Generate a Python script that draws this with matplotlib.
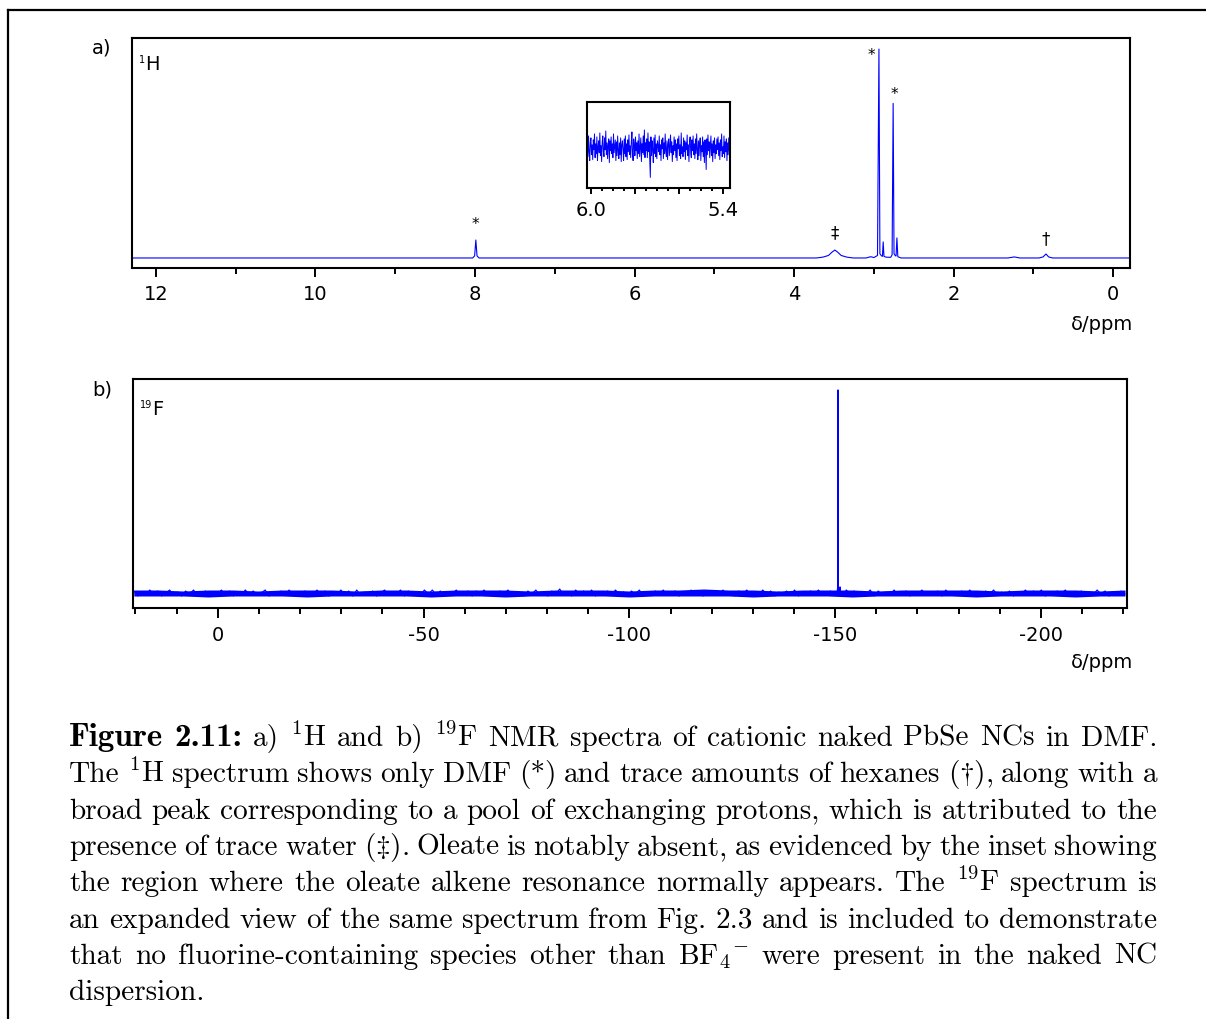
import numpy as np
import matplotlib
matplotlib.use("Agg")
import matplotlib.pyplot as plt
from matplotlib.lines import Line2D
from matplotlib.ticker import MultipleLocator, FixedLocator, FixedFormatter

plt.rcParams["font.family"] = ["DejaVu Sans"]
plt.rcParams["mathtext.fontset"] = "cm"
plt.rcParams["axes.unicode_minus"] = False

W, H = 1206, 1019
BLUE = "#0000ff"

# ---- 1H spectrum: vertices (ppm, intensity, tallest DMF line = 100)
h_ppm = [12.30, 8.03, 8.005, 7.99, 7.975, 7.95,
         3.72, 3.64, 3.57, 3.525, 3.49, 3.455, 3.41, 3.34, 3.26,
         3.10, 3.04, 3.00, 2.955, 2.937, 2.925, 2.905, 2.893, 2.884, 2.874, 2.85,
         2.79, 2.772, 2.759, 2.748, 2.73, 2.722, 2.712, 2.70, 2.66,
         1.32, 1.24, 1.17, 0.93, 0.88, 0.843, 0.81, 0.76, -0.21]
h_int = [0, 0, 1.0, 8.6, 1.0, 0,
         0, 0.4, 1.2, 2.8, 3.8, 2.8, 1.2, 0.4, 0,
         0, 0.6, 0.2, 1.2, 100, 2.0, 1.0, 0.8, 7.7, 0.8, 0.4,
         0.3, 1.5, 74, 2.0, 1.0, 1.0, 9.6, 0.6, 0,
         0, 0.5, 0, 0, 0.5, 1.9, 0.5, 0, 0]

# peak markers: symbol, ppm, intensity of the peak it sits on
h_marks = [("*", 7.99, 8.6), ("*", 2.937, 100), ("*", 2.759, 74),
           ("\u2021", 3.49, 3.8), ("\u2020", 0.843, 1.9)]

# ---- inset (6.0 - 5.4 ppm), baseline noise
inset_noise = [6, -9, 12, -4, -13, 5, 10, -7, 3, -12, 8, -2, 14, -10, 4, -6, 11, -13, 1, 7,
               -5, 15, -8, 2, -14, 6, 12, -4, -9, 10, -2, 17, -7, 5, -11, 3, 9, -15, 7, -3,
               11, -6, 4, -10, 14, -5, 1, 8, -13, 6, -8, 12, -3, -11, 5, -7, 10, -14, 3, 7,
               -2, -13, 9, -6, 12, -9, 4, -12, 8, -4, 13, -7, 2, -10, 6, 16, -5, -13, 9, 3,
               -8, 11, -3, 5, -11, 7, -6, 14, -9, 1, 10, -14, 4, -5, 12, -7, 18, -10, 5, -3,
               9, -10, 15, -4, 6, -12, -30, 11, -8, 7, -2, -15, 10, -6, 13, -9, 4, -11, 7, 2,
               -4, 12, -7, 3, -13, 8, -1, 10, -11, 5, -6, 14, -3, -9, 7, -12, 4, 9, -8, 2,
               13, -5, 6, -14, 2, -7, 11, -3, 8, -10, 4, -13, 9, -1, 12, -8, 3, -11, 15, -6,
               1, -9, 10, -4, 7, -12, 5, -2, 13, -8, 3, -14, 6, 11, -5, -10, 8, -3, 12, -7,
               4, -11, 9, -6, 14, -2, -12, 7, -8, 5, 10, -13, 2, -4, 11, -9, 6, -15, 8, -1,
               -22, 9, -7, 13, -3, 6, -10, 2, 12, -8, 4, -14, 7, -5, 10, -11, 3, -6, 9, -2,
               11, -8, 5, -12, 8, -3, 14, -9, 1, -6, 12, -10, 6, -4, 9, -13, 5, -7, 10, -3]

# ---- 19F spectrum
f_peak_ppm = [-150.50, -150.62, -150.68, -150.74, -150.90, -151.10, -151.18, -151.26]
f_peak_int = [0, 6, 203, 6, 0, 0, 6, 0]
# upper / lower edge of the baseline noise band
f_band_hi = [3, 3, 2, 3, 3, 2, 3, 3, 3, 2, 3, 3, 2, 3, 3, 3, 2, 3, 3, 3, 2,
             3, 3, 4, 3, 3, 2, 3, 3, 3, 2, 3, 3, 3, 3, 2, 3, 3, 3, 2, 3]
f_band_lo = [-3, -3, -3, -4, -3, -3, -3, -4, -3, -3, -3, -3, -4, -3, -3, -4, -3, -3, -3, -3, -4,
             -3, -3, -3, -3, -4, -3, -3, -3, -4, -3, -3, -3, -3, -4, -3, -3, -3, -4, -3, -3]
f_noise = [2, -3, 1, -2, 3, -1, 2, -3, 0, 3, -2, 1, -3, 2, -1, 3, -2, 0, 2, -3, 1, -1, 3, -2, 2,
           -3, 1, -2, 3, -1, 2, -2, 0, 3, -3, 1, -1, 2, -2, 3, -1, 1, -3, 2, 0, -2, 3, -1, 2, -3,
           1, -2, 3, -1, 2, -3, 3, -2, 1, -1, 2, -3, 0, 3, -2, 1, -1, 3, -3, 2, -1, 1, -2, 3, -1,
           3, -2, 2, -3, 1, -1, 3, -2, 0, 2, -3, 2, -1, 3, -2, 1, -3, 2, -1, 3, -2, 1, 0, -3, 2,
           -1, 3, -2, 1, -3, 2, -1, 4, -2, 1, -3, 3, -1, 2, -2, 3, -3, 1, -1, 2, -2, 3, -1, 1, -3,
           2, -1, 3, -3, 1, -2, 2, -1, 3, -2, 0, 2, -3, 1, -1, 3, -2, 2, -3, 1, -1, 2, -2, 3, -1,
           1, -3, 2, -1, 3, -2, 1, -2, 3, -1, 2, -3, 1, -1, 2, -2, 3, -3, 1, -2, 2, -1, 3, -2, 0,
           2, -2, 1, -3, 3, -1, 2, -2, 1, -1, 3, -3, 2, -1, 1, -2, 3, -2, 0, 2, -3, 1, -1, 3, -2,
           1, -1, 2, -3, 3, -2, 1, -1, 2, -2, 3, -1, 0, -3, 2, -1, 3, -2, 1, -2, 2, -3, 1, -1, 3,
           -2, 2, -1, 3, -3, 1, -2, 2, -1, 3, -2, 1, -3, 2, -1, 1, -2, 3, -1, 2, -3, 1, -2, 2, -1]

caption = [
    "Figure 2.11: a) $^{1}$H and b) $^{19}$F NMR spectra of cationic naked PbSe NCs in DMF.",
    "The $^{1}$H spectrum shows only DMF (*) and trace amounts of hexanes ($\\dagger$), along with a",
    "broad peak corresponding to a pool of exchanging protons, which is attributed to the",
    "presence of trace water ($\\ddagger$). Oleate is notably absent, as evidenced by the inset showing",
    "the region where the oleate alkene resonance normally appears. The $^{19}$F spectrum is",
    "an expanded view of the same spectrum from Fig. 2.3 and is included to demonstrate",
    "that no fluorine-containing species other than BF$_4{}^{-}$ were present in the naked NC",
    "dispersion.",
]

fig = plt.figure(figsize=(W / 100, H / 100), dpi=100)


def add_ax(l, t, r, b):
    return fig.add_axes([l / W, 1 - b / H, (r - l) / W, (b - t) / H])


def style_ax(ax, major_len, minor_len, size):
    for s in ax.spines.values():
        s.set_linewidth(1.5)
    ax.set_yticks([])
    ax.tick_params(axis="x", which="major", direction="out", length=major_len,
                   width=1.4, labelsize=size, pad=6)
    ax.tick_params(axis="x", which="minor", direction="out", length=minor_len, width=1.4)


# frame around the figure
fig.add_artist(Line2D([8 / W, 1.0], [1 - 10 / H, 1 - 10 / H], color="black", lw=1.6))
fig.add_artist(Line2D([8 / W, 8 / W], [1 - 10 / H, 0.0], color="black", lw=1.6))

# ---- a) 1H
ax = add_ax(132, 38, 1130, 268)
ax.plot(h_ppm, h_int, color=BLUE, lw=0.8)
ax.set_xlim(12.3, -0.21)
ax.set_ylim(-4.8, 105.3)
ax.xaxis.set_major_locator(MultipleLocator(2))
ax.xaxis.set_minor_locator(MultipleLocator(1))
style_ax(ax, 6.5, 4, 14)
offsets = [(0, 16), (-8, -6), (1, 9), (0, 17), (0, 15)]
for (sym, p, h), off in zip(h_marks, offsets):
    fs = 11 if sym == "*" else 12
    ax.annotate(sym, xy=(p, h), xytext=off, textcoords="offset pixels",
                ha="center", va="center", fontsize=fs)
ax.annotate("H", xy=(0, 1), xycoords="axes fraction", xytext=(13, -26),
            textcoords="offset pixels", ha="left", va="center", fontsize=14)
ax.annotate("1", xy=(0, 1), xycoords="axes fraction", xytext=(13, -22),
            textcoords="offset pixels", ha="right", va="center", fontsize=7)

# inset
axi = add_ax(586.7, 102.3, 730, 188.3)
axi.plot(np.linspace(6.015, 5.371, len(inset_noise)), inset_noise, color=BLUE, lw=0.7)
axi.set_xlim(6.018, 5.368)
axi.set_ylim(-41, 46)
axi.xaxis.set_major_locator(FixedLocator([6.0, 5.8, 5.6, 5.4]))
axi.xaxis.set_major_formatter(FixedFormatter(["6.0", "", "", "5.4"]))
axi.xaxis.set_minor_locator(MultipleLocator(0.05))
style_ax(axi, 4.5, 2.5, 14)
axi.tick_params(axis="x", which="major", pad=5)

# ---- b) 19F
bx = add_ax(133, 379, 1127, 608)
band_x = np.linspace(20.4, -220.4, len(f_band_hi))
bx.fill_between(band_x, f_band_lo, f_band_hi, color=BLUE, lw=0)
bx.plot(np.linspace(20.4, -220.4, len(f_noise)), f_noise, color=BLUE, lw=0.8)
bx.plot(f_peak_ppm, f_peak_int, color=BLUE, lw=1.0)
bx.set_xlim(20.6, -220.9)
bx.set_ylim(-15, 214)
bx.xaxis.set_major_locator(MultipleLocator(50))
bx.xaxis.set_minor_locator(MultipleLocator(10))
style_ax(bx, 7, 4, 14)
bx.annotate("F", xy=(0, 1), xycoords="axes fraction", xytext=(19, -30),
            textcoords="offset pixels", ha="left", va="center", fontsize=14)
bx.annotate("19", xy=(0, 1), xycoords="axes fraction", xytext=(19, -26),
            textcoords="offset pixels", ha="right", va="center", fontsize=7)

fig.text(102 / W, 1 - 48 / H, "a)", ha="center", va="center", fontsize=14)
fig.text(102 / W, 1 - 390 / H, "b)", ha="center", va="center", fontsize=14)
for yp in (324, 663):
    fig.text(1133 / W, 1 - yp / H, "\u03b4/ppm", ha="right", va="center", fontsize=14)

# ---- caption, justified word by word (cmb10 is narrower than LaTeX's bold extended)
CAP_L, CAP_R = 69, 1157
BASE0, LEAD = 746, 36.3
BOLD_SCALE = 1.13
renderer = fig.canvas.get_renderer()
rows = []
for i, line in enumerate(caption):
    words = []
    for j, w in enumerate(line.split(" ")):
        bold = i == 0 and j < 2
        fam = ["cmb10", "DejaVu Serif"] if bold else ["cmr10", "DejaVu Serif"]
        t = fig.text(0, 1 - (BASE0 + i * LEAD) / H, w, family=fam,
                     fontsize=10 * (BOLD_SCALE if bold else 1.0),
                     ha="left", va="baseline")
        t._scale = BOLD_SCALE if bold else 1.0
        words.append(t)
    rows.append(words)

em10 = 10 / 72 * 100
tight = [sum(t.get_window_extent(renderer).width for t in r) + 0.24 * em10 * (len(r) - 1)
         for r in rows[:-1]]
fs = 10 * (CAP_R - CAP_L) / max(tight)
for r in rows:
    for t in r:
        t.set_fontsize(fs * t._scale)
for i, r in enumerate(rows):
    widths = [t.get_window_extent(renderer).width for t in r]
    if i < len(rows) - 1:
        gap = (CAP_R - CAP_L - sum(widths)) / (len(r) - 1)
    else:
        gap = fs / 72 * 100 * 0.333
    x = CAP_L
    for t, w in zip(r, widths):
        t.set_x(x / W)
        x += w + gap

fig.savefig("out.png", dpi=100)
